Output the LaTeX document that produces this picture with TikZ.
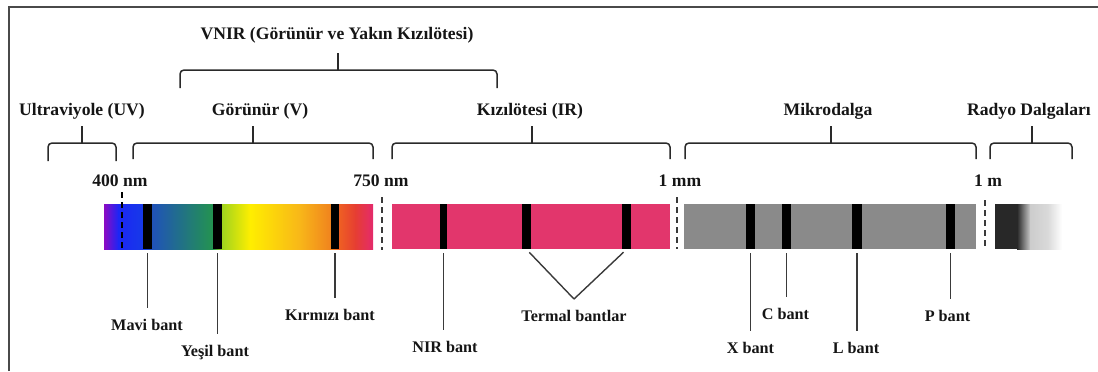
\documentclass[tikz,border=0pt]{standalone}
\usepackage{fontspec}
\setmainfont{Liberation Serif}
\definecolor{txt}{HTML}{151515}
\definecolor{brc}{HTML}{2A2A2A}
\definecolor{ldc}{HTML}{3A3A3A}
\definecolor{frm}{HTML}{4A4A4A}
\definecolor{irpink}{RGB}{226,54,108}
\definecolor{mwgrey}{RGB}{138,138,138}
\definecolor{s1}{RGB}{140,10,195}
\definecolor{s2}{RGB}{28,38,245}
\definecolor{s3}{RGB}{22,58,232}
\definecolor{s4}{RGB}{32,82,185}
\definecolor{s5}{RGB}{35,148,78}
\definecolor{s6}{RGB}{160,212,30}
\definecolor{s7}{RGB}{255,238,0}
\definecolor{s8}{RGB}{248,182,25}
\definecolor{s9}{RGB}{240,130,30}
\definecolor{s10}{RGB}{238,95,35}
\definecolor{s11}{RGB}{230,62,50}
\definecolor{s12}{RGB}{228,42,108}
\definecolor{rd1}{RGB}{40,40,40}
\definecolor{rd2}{RGB}{204,204,204}
\definecolor{rd3}{RGB}{218,218,218}
\begin{document}
\begin{tikzpicture}[x=0.5pt,y=-0.5pt,
  hdr/.style={font=\fontsize{8.8}{10}\selectfont\bfseries, text=txt, inner sep=0pt, anchor=base},
  lbl/.style={font=\fontsize{8.1}{9.5}\selectfont\bfseries, text=txt, inner xsep=0pt, inner ysep=5.5pt, text height=5.4pt, text depth=0pt, anchor=north},
  bandbox/.style={fill=black, inner sep=0pt, minimum height=22.5pt},
  brace/.style={draw=brc, line width=0.75pt, rounded corners=2pt},
  lead/.style={draw=ldc, line width=0.7pt, shorten <=2pt},
  sepline/.style={line width=0.8pt, dash pattern=on 3pt off 2pt}]
\useasboundingbox (0,0) rectangle (1098,371);
% frame
\draw[frm, line width=0.8pt] (9,371) -- (9,7) -- (1098,7);

% headers
\node[hdr] (vnir) at (337,39) {VNIR (Görünür ve Yakın Kızılötesi)};
\node[hdr] (uv) at (82,115.5) {Ultraviyole (UV)};
\node[hdr] (vis) at (260,115.5) {Görünür (V)};
\node[hdr] (ir) at (530,115.5) {Kızılötesi (IR)};
\node[hdr] (mw) at (828,115.5) {Mikrodalga};
\node[hdr] (rad) at (1029,115.5) {Radyo Dalgaları};

% brackets
\draw[brace] (180,88) -- (180,70) -- (497,70) -- (497,88);
\draw[brace] (338,70) -- (338,53);
\draw[brace] (48,161) -- (48,143) -- (116,143) -- (116,161);
\draw[brace] (82,143) -- (82,126);
\draw[brace] (133,159) -- (133,143) -- (373,143) -- (373,159);
\draw[brace] (253,143) -- (253,126);
\draw[brace] (392,159) -- (392,143) -- (670,143) -- (670,159);
\draw[brace] (532,143) -- (532,126);
\draw[brace] (685,159) -- (685,143) -- (976,143) -- (976,159);
\draw[brace] (831,143) -- (831,126);
\draw[brace] (990,159) -- (990,143) -- (1072,143) -- (1072,159);
\draw[brace] (1032,143) -- (1032,126);

% wavelength labels
\node[hdr] (w400) at (120,186.5) {400 nm};
\node[hdr] (w750) at (381,186.5) {750 nm};
\node[hdr] (w1mm) at (680,186.5) {1 mm};
\node[hdr] (w1m) at (988,186.5) {1 m};

% visible spectrum
\shade[left color=s1, right color=s2] (104,204) rectangle (118.5,249);
\shade[left color=s2, right color=s3] (118,204) rectangle (143.5,249);
\shade[left color=s3, right color=s4] (143,204) rectangle (152.5,249);
\shade[left color=s4, right color=s5] (152,204) rectangle (213.5,249);
\shade[left color=s5, right color=s6] (213,204) rectangle (222.5,249);
\shade[left color=s6, right color=s7] (222,204) rectangle (250.5,249);
\shade[left color=s7, right color=s8] (250,204) rectangle (300.5,249);
\shade[left color=s8, right color=s9] (300,204) rectangle (331.5,249);
\shade[left color=s9, right color=s10] (331,204) rectangle (339.5,249);
\shade[left color=s10, right color=s11] (339,204) rectangle (355.5,249);
\shade[left color=s11, right color=s12] (355,204) rectangle (373,249);

% infrared
\fill[irpink] (392,204) rectangle (670,249);
% microwave
\fill[mwgrey] (684,204) rectangle (976,249);
% radio
\fill[rd1] (995,204) rectangle (1017.5,249);
\shade[left color=rd1, right color=rd2] (1017,204) rectangle (1030.5,249);
\shade[left color=rd2, right color=rd3] (1030,204) rectangle (1048.5,249);
\shade[left color=rd3, right color=white] (1048,204) rectangle (1062,249);

% separators
\draw[sepline, black] (122,192) -- (122,249);
\draw[sepline, ldc] (382,197) -- (382,250);
\draw[sepline, ldc] (677,197) -- (677,249);
\draw[sepline, ldc] (985,200) -- (985,246);

% bands
\node[bandbox, minimum width=4.5pt] (bmavi) at (147.5,226.5) {};
\node[bandbox, minimum width=4.5pt] (byesil) at (217.5,226.5) {};
\node[bandbox, minimum width=4.2pt] (bkirmizi) at (335,226.5) {};
\node[bandbox, minimum width=3.6pt] (bnir) at (443.5,226.5) {};
\node[bandbox, minimum width=4.5pt] (bt1) at (526.5,226.5) {};
\node[bandbox, minimum width=4.5pt] (bt2) at (626.5,226.5) {};
\node[bandbox, minimum width=4.5pt] (bx) at (750.5,226.5) {};
\node[bandbox, minimum width=4.5pt] (bc) at (786.5,226.5) {};
\node[bandbox, minimum width=4.8pt] (bl) at (857,226.5) {};
\node[bandbox, minimum width=4.5pt] (bp) at (950.5,226.5) {};

% band labels
\node[lbl] (lmavi) at (147,308) {Mavi bant};
\node[lbl] (lyesil) at (215,334) {Yeşil bant};
\node[lbl] (lkirmizi) at (330,298) {Kırmızı bant};
\node[lbl] (lnir) at (445,330) {NIR bant};
\node[lbl] (ltermal) at (574,299) {Termal bantlar};
\node[lbl] (lx) at (750.5,331) {X bant};
\node[lbl] (lc) at (785.5,297) {C bant};
\node[lbl] (ll) at (856,331) {L bant};
\node[lbl] (lp) at (947.5,299) {P bant};

% leader lines
\draw[lead] (bmavi.south) -- (bmavi.south |- lmavi.north);
\draw[lead] (byesil.south) -- (byesil.south |- lyesil.north);
\draw[lead] (bkirmizi.south) -- (bkirmizi.south |- lkirmizi.north);
\draw[lead] (bnir.south) -- (bnir.south |- lnir.north);
\draw[lead] (bt1.south) -- (ltermal.north);
\draw[lead] (bt2.south) -- (ltermal.north);
\draw[lead] (bx.south) -- (bx.south |- lx.north);
\draw[lead] (bc.south) -- (bc.south |- lc.north);
\draw[lead] (bl.south) -- (bl.south |- ll.north);
\draw[lead] (bp.south) -- (bp.south |- lp.north);
\end{tikzpicture}
\end{document}
